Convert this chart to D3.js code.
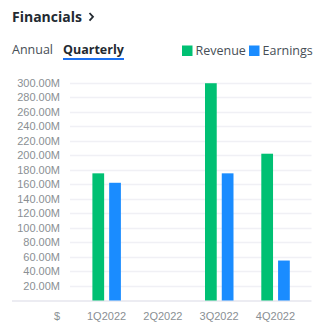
<!DOCTYPE html>
<html>
<head>
<meta charset="utf-8">
<script src="https://cdn.jsdelivr.net/npm/d3@7"></script>
<style>
  html, body { margin: 0; padding: 0; background: #fff; }
  svg { display: block; }
</style>
</head>
<body>
<svg id="chart" width="323" height="333"></svg>
<script>
// Quarterly financials (USD, millions)
const quarters = ["1Q2022", "2Q2022", "3Q2022", "4Q2022"];
const revenue  = [175, null, 299, 202];
const earnings = [162, null, 175, 55];
const seriesNames  = ["Revenue", "Earnings"];
const seriesColors = ["#00c073", "#1a8cff"];
const yTicks = [20, 40, 60, 80, 100, 120, 140, 160, 180, 200, 220, 240, 260, 280, 300];

const svg = d3.select("#chart");
const font = "'Open Sans', 'Noto Sans', sans-serif";
const axisFont = "Arial, 'Liberation Sans', sans-serif";

// Header
svg.append("text")
  .attr("x", 12).attr("y", 21.5)
  .attr("font-family", font).attr("font-weight", 700).attr("font-size", 14)
  .attr("fill", "#232a31")
  .text("Financials");
svg.append("path")
  .attr("d", "M89.5,13 L93,16.8 L89.5,20.6")
  .attr("fill", "none").attr("stroke", "#232a31").attr("stroke-width", 1.8);

// Tabs
svg.append("text")
  .attr("x", 12).attr("y", 54)
  .attr("font-family", font).attr("font-size", 12.5).attr("fill", "#464e56")
  .text("Annual");
svg.append("text")
  .attr("x", 63).attr("y", 54)
  .attr("font-family", font).attr("font-weight", 700).attr("font-size", 12.5).attr("fill", "#232a31")
  .text("Quarterly");
svg.append("rect")
  .attr("x", 63).attr("y", 58).attr("width", 61).attr("height", 2)
  .attr("fill", "#1a6ff0");

// Legend
const legend = svg.append("g");
const legendX = [182, 249];
seriesNames.forEach((name, i) => {
  legend.append("rect")
    .attr("x", legendX[i]).attr("y", 45.5).attr("width", 10.5).attr("height", 10.5)
    .attr("fill", seriesColors[i]);
  legend.append("text")
    .attr("x", legendX[i] + 13.5).attr("y", 55)
    .attr("font-family", font).attr("font-size", 12.5).attr("fill", "#464e56")
    .text(name);
});

// Scales
const y = d3.scaleLinear().domain([0, 300]).range([300.5, 82.5]);
const x = d3.scaleBand().domain(quarters).range([78.4, 303.6]).paddingInner(0).paddingOuter(0);
const inner = d3.scaleBand().domain(seriesNames).range([14, 42.5]).paddingInner(0.3);

// Gridlines
svg.append("g").selectAll("line").data(yTicks).join("line")
  .attr("x1", 70).attr("x2", 311.5)
  .attr("y1", d => Math.round(y(d)) + 0.5).attr("y2", d => Math.round(y(d)) + 0.5)
  .attr("stroke", "#f0f0f5").attr("stroke-width", 1.5);

// Baseline
svg.append("line")
  .attr("x1", 12).attr("x2", 311.5)
  .attr("y1", y(0) + 0.5).attr("y2", y(0) + 0.5)
  .attr("stroke", "#e6e6ee").attr("stroke-width", 1.5);

// Y labels
svg.append("g").selectAll("text").data(yTicks).join("text")
  .attr("x", 60).attr("y", d => y(d) + 4)
  .attr("text-anchor", "end")
  .attr("font-family", axisFont).attr("font-size", 11).attr("fill", "#8a8f94")
  .text(d => d.toFixed(2) + "M");

// X labels
svg.append("text")
  .attr("x", 57).attr("y", 320)
  .attr("text-anchor", "middle")
  .attr("font-family", axisFont).attr("font-size", 11).attr("fill", "#8a8f94")
  .text("$");
svg.append("g").selectAll("text").data(quarters).join("text")
  .attr("x", d => x(d) + x.bandwidth() / 2).attr("y", 320)
  .attr("text-anchor", "middle")
  .attr("font-family", axisFont).attr("font-size", 11).attr("fill", "#8a8f94")
  .text(d => d);

// Bars
const series = [revenue, earnings];
series.forEach((vals, si) => {
  const data = quarters.map((q, i) => ({ q, v: vals[i] })).filter(d => d.v != null);
  svg.append("g").selectAll("rect").data(data).join("rect")
    .attr("x", d => x(d.q) + inner(seriesNames[si]))
    .attr("y", d => y(d.v))
    .attr("width", inner.bandwidth())
    .attr("height", d => y(0) - y(d.v))
    .attr("fill", seriesColors[si]);
});
</script>
</body>
</html>
